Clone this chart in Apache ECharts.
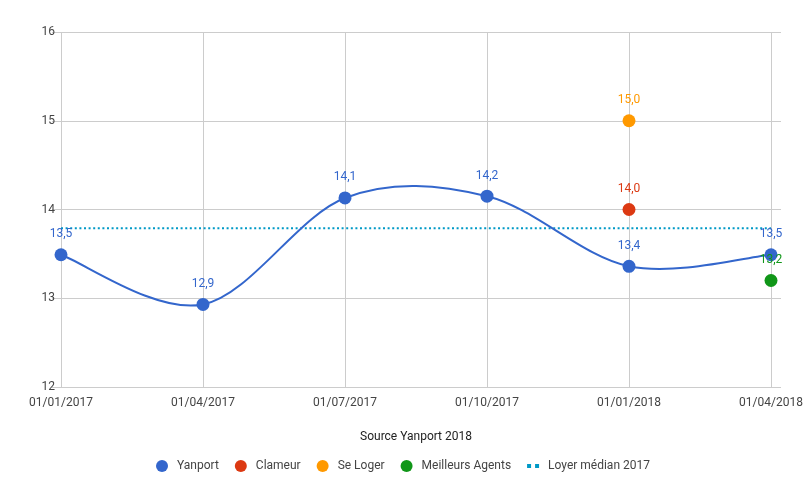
<!DOCTYPE html>
<html>
<head>
<meta charset="utf-8">
<script src="https://cdn.jsdelivr.net/npm/echarts@6/dist/echarts.min.js"></script>
<style>
  html, body { margin: 0; padding: 0; background: #fff; }
  #chart { width: 806px; height: 498px; }
</style>
</head>
<body>
<div id="chart"></div>
<script>
var dates = ['01/01/2017', '01/04/2017', '01/07/2017', '01/10/2017', '01/01/2018', '01/04/2018'];
var yanport = [13.49, 12.93, 14.13, 14.15, 13.36, 13.49];
var clameur = [null, null, null, null, 14.0, null];
var seLoger = [null, null, null, null, 15.0, null];
var meilleursAgents = [null, null, null, null, null, 13.2];
var loyerMedian = [13.79, 13.79, 13.79, 13.79, 13.79, 13.79];
var yTicks = [12, 13, 14, 15, 16];

function fmt(p) {
	return p.value == null ? '' : Number(p.value).toFixed(1).replace('.', ',');
}

function pointLabel(color) {
	return {
		show: true,
		position: 'top',
		distance: 8,
		formatter: fmt,
		color: color,
		fontFamily: 'Roboto',
		fontSize: 12
	};
}

// curve through the Yanport points (catmull-rom like the original "function" curve)
function renderCurve(params, api) {
	var pts = [];
	for (var i = 0; i < yanport.length; i++) {
		pts.push(api.coord([i, yanport[i]]));
	}
	var d = 'M' + pts[0][0] + ',' + pts[0][1];
	for (var i = 0; i < pts.length - 1; i++) {
		var p0 = pts[Math.max(i - 1, 0)];
		var p1 = pts[i];
		var p2 = pts[i + 1];
		var p3 = pts[Math.min(i + 2, pts.length - 1)];
		var c1x = p1[0] + (p2[0] - p0[0]) / 6;
		var c1y = p1[1] + (p2[1] - p0[1]) / 6;
		var c2x = p2[0] - (p3[0] - p1[0]) / 6;
		var c2y = p2[1] - (p3[1] - p1[1]) / 6;
		d += 'C' + c1x + ',' + c1y + ',' + c2x + ',' + c2y + ',' + p2[0] + ',' + p2[1];
	}
	return {
		type: 'path',
		shape: { pathData: d },
		style: { fill: null, stroke: '#3366cc', lineWidth: 2 }
	};
}

var chart = echarts.init(document.getElementById('chart'), null, { renderer: 'canvas' });

var option = {
	animation: false,
	backgroundColor: '#fff',
	textStyle: { fontFamily: 'Roboto' },
	grid: {
		top: 32,
		left: 61,
		right: 35,
		bottom: 111,
		containLabel: false
	},
	legend: {
		bottom: 21,
		left: 'center',
		itemWidth: 12,
		itemHeight: 12,
		itemGap: 16,
		textStyle: { color: '#444', fontSize: 12, fontFamily: 'Roboto', padding: [0, 0, 0, 4] },
		data: [
			{ name: 'Yanport', icon: 'circle' },
			{ name: 'Clameur', icon: 'circle' },
			{ name: 'Se Loger', icon: 'circle' },
			{ name: 'Meilleurs Agents', icon: 'circle' },
			{ name: 'Loyer médian 2017', icon: 'path://M0,0h3v3h-3zM6,0h3v3h-3z' }
		]
	},
	xAxis: {
		type: 'category',
		data: dates,
		boundaryGap: false,
		name: 'Source Yanport 2018',
		nameLocation: 'middle',
		nameGap: 44,
		nameTextStyle: { color: '#222', fontSize: 12, fontFamily: 'Roboto' },
		axisLine: { show: false },
		axisTick: { show: false },
		axisLabel: { color: '#444', fontSize: 12, margin: 10, interval: 0 },
		splitLine: { show: true, interval: 0, lineStyle: { color: '#ccc', width: 1 } }
	},
	yAxis: [{
		type: 'value',
		min: yTicks[0],
		max: yTicks[yTicks.length - 1],
		interval: 1,
		axisLine: { show: false },
		axisTick: { show: true, length: 9, lineStyle: { color: '#ccc' } },
		axisLabel: { color: '#444', fontSize: 12, margin: 6 },
		splitLine: { show: true, lineStyle: { color: '#ccc', width: 1 } }
	}, {
		type: 'value',
		position: 'right',
		min: yTicks[0],
		max: yTicks[yTicks.length - 1],
		interval: 1,
		axisLine: { show: false },
		axisTick: { show: true, length: 10, lineStyle: { color: '#ccc' } },
		axisLabel: { show: false },
		splitLine: { show: false }
	}],
	series: [{
		name: 'Yanport',
		type: 'line',
		data: yanport,
		symbol: 'circle',
		symbolSize: 13,
		color: '#3366cc',
		itemStyle: { color: '#3366cc', opacity: 1 },
		lineStyle: { width: 0, opacity: 0 },
		label: pointLabel('#3366cc'),
		z: 4
	}, {
		name: 'Loyer médian 2017',
		type: 'line',
		data: loyerMedian,
		symbol: 'none',
		color: '#0099c6',
		lineStyle: { color: '#0099c6', width: 2, type: [2, 2.6] },
		z: 1
	}, {
		name: 'Yanport',
		type: 'custom',
		data: [[0, yanport[0]]],
		renderItem: renderCurve,
		silent: true,
		z: 2
	}, {
		name: 'Clameur',
		type: 'scatter',
		data: clameur,
		symbolSize: 13,
		color: '#dc3912',
		itemStyle: { color: '#dc3912', opacity: 1 },
		label: pointLabel('#dc3912'),
		z: 4
	}, {
		name: 'Se Loger',
		type: 'scatter',
		data: seLoger,
		symbolSize: 13,
		color: '#ff9900',
		itemStyle: { color: '#ff9900', opacity: 1 },
		label: pointLabel('#ff9900'),
		z: 4
	}, {
		name: 'Meilleurs Agents',
		type: 'scatter',
		data: meilleursAgents,
		symbolSize: 13,
		color: '#109618',
		itemStyle: { color: '#109618', opacity: 1 },
		label: pointLabel('#109618'),
		z: 5
	}]
};

chart.setOption(option);
</script>
</body>
</html>
